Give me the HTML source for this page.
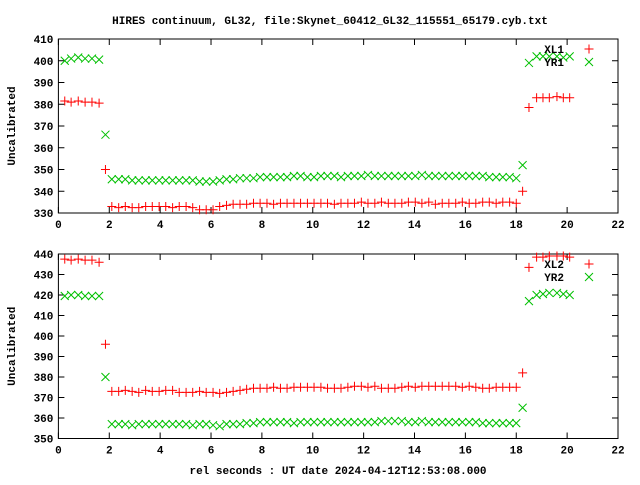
<!DOCTYPE html>
<html><head><meta charset="utf-8"><style>
html,body{margin:0;padding:0;background:#fff;}
svg text{font-family:"Liberation Mono",monospace;font-weight:bold;font-size:11px;fill:#000;}
</style></head><body>
<svg id="chart" width="640" height="480" xmlns="http://www.w3.org/2000/svg">
<rect width="640" height="480" fill="#fff"/>
<text x="330" y="24" text-anchor="middle">HIRES continuum, GL32, file:Skynet_60412_GL32_115551_65179.cyb.txt</text>
<text x="338" y="474" text-anchor="middle">rel seconds : UT date 2024-04-12T12:53:08.000</text>
<g id="plots"></g>
</svg>
<script>
const timePre = [0.25,0.5,0.78,1.05,1.32,1.6,1.85];
const timeMid = [2.1,2.37,2.63,2.9,3.16,3.43,3.69,3.96,4.22,4.49,4.75,5.02,5.28,5.55,5.81,6.08,6.34,6.61,6.87,7.14,7.4,7.67,7.93,8.2,8.46,8.73,8.99,9.26,9.52,9.79,10.05,10.32,10.58,10.85,11.11,11.38,11.64,11.91,12.17,12.44,12.7,12.97,13.23,13.5,13.76,14.03,14.29,14.56,14.82,15.09,15.35,15.62,15.88,16.15,16.41,16.68,16.94,17.21,17.47,17.74,18.0];
const timePost = [18.25,18.5,18.8,19.05,19.3,19.6,19.85,20.1];
const times = timePre.concat(timeMid, timePost);

const xl1 = [381.5,381,381.5,381,381,380.5,350,
333,332.5,333,332.5,332.5,333,333,333,333,332.5,333,333,332.5,
331.5,331.5,331.5,333,333.5,334,334,334,
334.5,334.5,334.5,334,334.5,334.5,334.5,334.5,334.5,334.5,334.5,334.5,334,334.5,334.5,334.5,335,334.5,334.5,335,
334.5,334.5,334.5,335,335,334.5,335,334,334.5,334.5,334.5,335,334.5,334.5,335,335,334.5,335,335,334.5,
340,378.5,383,383,383,383.5,383,383];
const yr1 = [400,401,401.5,401,401,400.5,366,
345.5,345.5,345.5,345,345,345,345,345,345,345,345,345,345,
344.5,344.5,344.5,345,345.5,345.5,346,346,
346,346.5,346.5,346.5,346.5,346.5,347,347,346.5,346.5,347,347,347,346.5,347,347,347,347.5,347,347,
347,347,347,347,347,347.5,347,347,347,347,347,347,347,347,347,346.5,346.5,346.5,346.5,346,
352,399,402,402,402,402,401.5,402];
const xl2 = [437.5,437,437.5,437,437,436,396,
373,373,373.5,373,372.5,373.5,373,373,373.5,373.5,372.5,372.5,372.5,
373,372.5,372.5,372,372.5,373,373.5,374,
374.5,374.5,374.5,375,374.5,374.5,375,375,375,375,375,374.5,374.5,374.5,375,375.5,375.5,375,375.5,374.5,
374.5,374.5,375,375.5,375,375.5,375.5,375.5,375.5,375.5,375.5,375,375.5,375,374.5,374.5,375,375,375,375,
382,433.5,438.5,438.5,439,439,439,438.5];
const yr2 = [419.5,420,420,419.5,419.5,419.5,380,
357,357,357,356.5,357,357,357,357,357,357,357,357,356.5,
357,357,356.5,356,357,357,357,357.5,
357.5,358,358,358,358,358,357.5,358,358,358,358,358,358,358,358,358,358,358,358,358.5,
358.5,358.5,358.5,358,358,358.5,358,358,358,358,358,358,358,358,357.5,357.5,357.5,357.5,357.5,357.5,
365,417,420,420.5,421,421,420.5,420];
const xTicks = [0,2,4,6,8,10,12,14,16,18,20,22];
const yTicksTop = [330,340,350,360,370,380,390,400,410];
const yTicksBot = [350,360,370,380,390,400,410,420,430,440];

const NS = "http://www.w3.org/2000/svg";
const root = document.getElementById('plots');
function mk(tag, attrs, parent){const e=document.createElementNS(NS,tag);for(const k in attrs)e.setAttribute(k,attrs[k]);(parent||root).appendChild(e);return e;}

function panel(cfg){
  const L=58.4,R=618,T=cfg.top,B=cfg.bottom;
  const xs=v=>L+(v-0)/(22-0)*(R-L);
  const ys=v=>B-(v-cfg.ymin)/(cfg.ymax-cfg.ymin)*(B-T);
  const g=mk('g',{});
  
  
  const frame=mk('rect',{x:L,y:T,width:R-L,height:B-T,fill:'none',stroke:'#000','stroke-width':1},g);
  
  
  xTicks.forEach(t=>{
    const x=xs(t);
    mk('line',{x1:x,y1:B,x2:x,y2:B-6,stroke:'#000'},g);
    mk('line',{x1:x,y1:T,x2:x,y2:T+6,stroke:'#000'},g);
    const lb=mk('text',{x:x,y:B+15,'text-anchor':'middle'},g);
    lb.textContent=t;
    
    
  });
  cfg.yticks.forEach(t=>{
    const y=ys(t);
    mk('line',{x1:L,y1:y,x2:L+6,y2:y,stroke:'#000'},g);
    mk('line',{x1:R,y1:y,x2:R-6,y2:y,stroke:'#000'},g);
    const lb=mk('text',{x:L-5,y:y+4,'text-anchor':'end'},g);
    lb.textContent=t;
    
    
  });
  const yl=mk('text',{x:0,y:0,'text-anchor':'middle',transform:`translate(15,${(T+B)/2}) rotate(-90)`},g);
  yl.textContent='Uncalibrated';
  
  
  function plus(x,y,parent){const p=mk('path',{d:`M${x-4.5},${y}H${x+4.5}M${x},${y-4.5}V${y+4.5}`,stroke:'#ff0000','stroke-width':1,fill:'none'},parent);return p;}
  function cross(x,y,parent){const p=mk('path',{d:`M${x-4},${y-4}L${x+4},${y+4}M${x-4},${y+4}L${x+4},${y-4}`,stroke:'#00c000','stroke-width':1,fill:'none'},parent);return p;}
  const sa=mk('g',{},g);
  
  
  const sb=mk('g',{},g);
  
  
  times.forEach((t,i)=>{
    const p=plus(xs(t),ys(cfg.v1[i]),sa);
    
    
    const c=cross(xs(t),ys(cfg.v2[i]),sb);
    
    
  });
  const lg=mk('g',{},g);
  
  
  const t1=mk('text',{x:564,y:T+14,'text-anchor':'end'},lg);t1.textContent=cfg.s1;
  
  
  plus(589,T+10,lg);
  const t2=mk('text',{x:564,y:T+27,'text-anchor':'end'},lg);t2.textContent=cfg.s2;
  
  
  cross(589,T+23,lg);
}
panel({name:'top-panel',top:39,bottom:213,ymin:330,ymax:410,yticks:yTicksTop,v1:xl1,v2:yr1,s1:'XL1',s2:'YR1'});
panel({name:'bottom-panel',top:254,bottom:438.5,ymin:350,ymax:440,yticks:yTicksBot,v1:xl2,v2:yr2,s1:'XL2',s2:'YR2'});
</script>
</body></html>
